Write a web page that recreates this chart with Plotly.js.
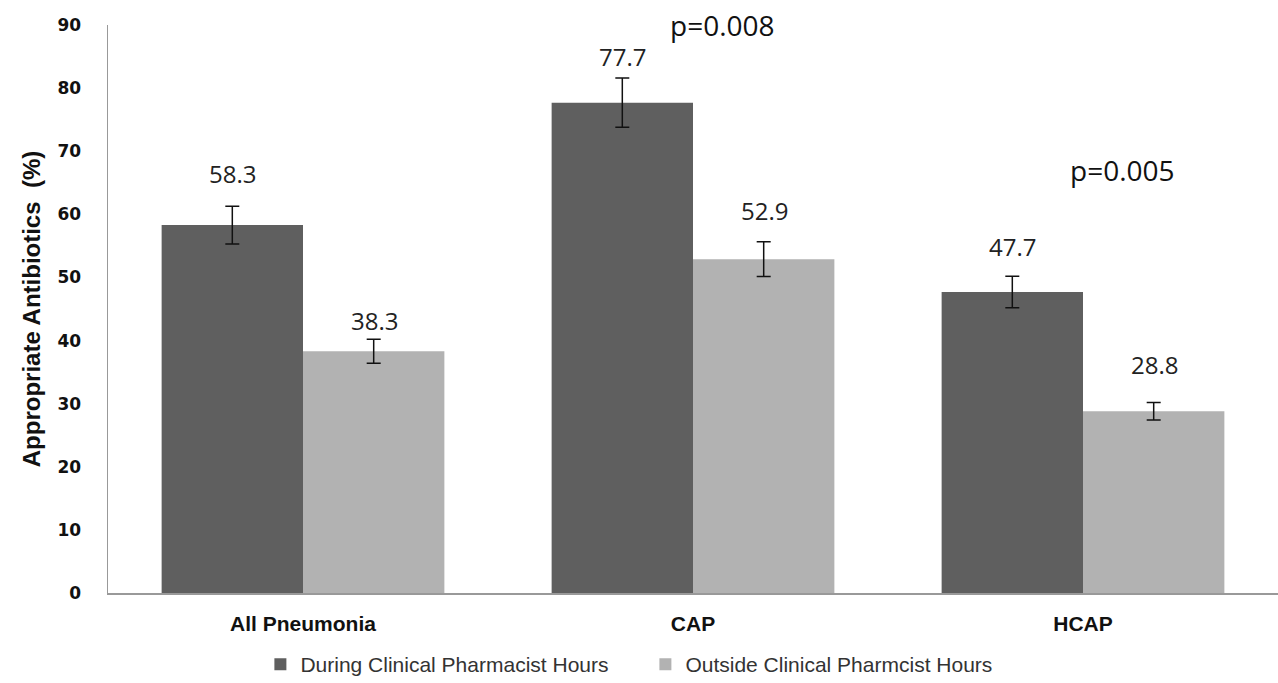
<!DOCTYPE html>
<html>
<head>
<meta charset="utf-8">
<script src="https://cdn.plot.ly/plotly-3.0.1.min.js"></script>
<style>html,body{margin:0;padding:0;background:#fff}#chart{width:1278px;height:683px}</style>
</head>
<body>
<div id="chart"></div>
<script>
var categories = ["All Pneumonia", "CAP", "HCAP"];
var seriesNames = ["During Clinical Pharmacist Hours", "Outside Clinical Pharmcist Hours"];
var duringValues = [58.3, 77.7, 47.7];
var outsideValues = [38.3, 52.9, 28.8];
var duringErrors = [3.0, 3.9, 2.5];
var outsideErrors = [1.9, 2.75, 1.4];
var pValueLabels = ["p=0.008", "p=0.005"];
var pValueCategories = ["CAP", "HCAP"];
var pValueY = [90, 67];

// style: pixel offsets of the value labels above the error bars
var duringLabelShift = [33, 22, 30];
var outsideLabelShift = [19, 31, 38];

var darkColor = "#5f5f5f";
var lightColor = "#b2b2b2";

var traces = [
  {
    type: "bar", name: seriesNames[0], x: categories, y: duringValues,
    marker: {color: darkColor},
    error_y: {type: "data", array: duringErrors, visible: true, color: "#111", thickness: 1.5, width: 7}
  },
  {
    type: "bar", name: seriesNames[1], x: categories, y: outsideValues,
    marker: {color: lightColor},
    error_y: {type: "data", array: outsideErrors, visible: true, color: "#111", thickness: 1.5, width: 7}
  }
];

var labelFont = {family: "Open Sans, Liberation Sans, sans-serif", size: 24, color: "#222"};
var annotations = [];
categories.forEach(function (c, i) {
  annotations.push({x: c, y: duringValues[i] + duringErrors[i], xref: "x", yref: "y", text: duringValues[i].toFixed(1),
    showarrow: false, xshift: -71, yshift: duringLabelShift[i], font: labelFont});
  annotations.push({x: c, y: outsideValues[i] + outsideErrors[i], xref: "x", yref: "y", text: outsideValues[i].toFixed(1),
    showarrow: false, xshift: 71, yshift: outsideLabelShift[i], font: labelFont});
});
pValueLabels.forEach(function (t, i) {
  annotations.push({x: pValueCategories[i], y: pValueY[i], xref: "x", yref: "y", text: t, showarrow: false,
    xshift: 29 + (i === 1 ? 10 : 0), font: {family: "Open Sans, Liberation Sans, sans-serif", size: 28, color: "#111"}});
});

var layout = {
  width: 1278, height: 683,
  margin: {l: 108, r: 0, t: 25, b: 90, autoexpand: false},
  paper_bgcolor: "#fff", plot_bgcolor: "#fff",
  barmode: "group", bargap: 0.275, bargroupgap: 0,
  showlegend: true,
  legend: {orientation: "h", x: 0.505, xref: "container", xanchor: "center", y: 0.027, yref: "container", yanchor: "middle",
    font: {family: "Liberation Sans, Arial, sans-serif", size: 21, color: "#333"}, itemwidth: 30, traceorder: "normal", entrywidth: 340},
  xaxis: {
    showline: true, linecolor: "#999", linewidth: 2, showgrid: false,
    ticks: "", tickfont: {family: "Liberation Sans, Arial, sans-serif", size: 21, color: "#111", weight: "bold"},
    ticklabelstandoff: 11
  },
  yaxis: {
    range: [0, 90], dtick: 10, showline: true, linecolor: "#999", linewidth: 1.5, showgrid: false, zeroline: false,
    ticks: "", tickfont: {family: "DejaVu Sans, sans-serif", size: 17, color: "#111", weight: "bold"},
    ticklabelstandoff: 22,
    title: {text: "Appropriate Antibiotics  (%)", standoff: 10, font: {family: "Liberation Sans, Arial, sans-serif", size: 24, color: "#111", weight: "bold"}}
  },
  annotations: annotations
};

Plotly.newPlot("chart", traces, layout, {displayModeBar: false, staticPlot: true});
</script>
</body>
</html>
